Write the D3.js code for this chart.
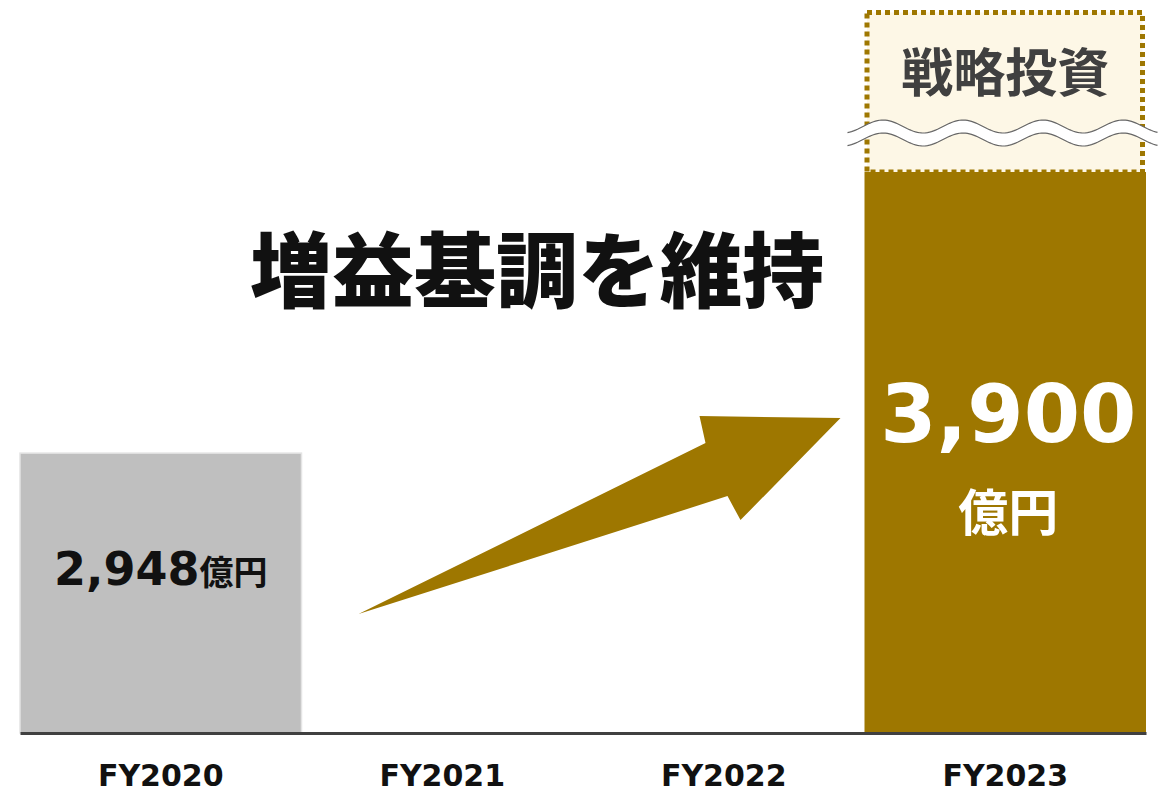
<!DOCTYPE html>
<html>
<head>
<meta charset="utf-8">
<script src="https://cdn.jsdelivr.net/npm/d3@7"></script>
<style>
  body { margin: 0; background: #fff; }
  svg { display: block; }
</style>
</head>
<body>
<svg width="1167" height="796"></svg>
<script>
// chart data
var years = ["FY2020", "FY2021", "FY2022", "FY2023"];
var values = [2948, null, null, 3900];
var unit = "億円";
var headline = "増益基調を維持";
var boxLabel = "戦略投資";

var gold = "#9e7700",
    grey = "#bfbfbf",
    jp = "'Noto Sans CJK JP', 'Noto Sans', sans-serif",
    num = "'DejaVu Sans', Verdana, sans-serif";

var svg = d3.select("svg"),
    width = +svg.attr("width"),
    height = +svg.attr("height");

var x = d3.scaleBand()
    .domain(years)
    .range([20, 1146])
    .paddingInner(0)
    .paddingOuter(0);

// axis does not start at zero
var y = d3.scaleLinear()
    .domain([2000, 3900])
    .range([733, 172]);

var bars = years.map(function(d, i) { return {year: d, value: values[i], i: i}; })
    .filter(function(d) { return d.value != null; });

// strategic investment box above the last bar
var last = bars[bars.length - 1];
var bx = x(last.year) + 2.5, bw = x.bandwidth() - 6;
svg.append("rect")
    .attr("x", bx)
    .attr("y", 12.5)
    .attr("width", bw)
    .attr("height", y(last.value) - 12.5)
    .attr("fill", "#fdf7e6")
    .attr("stroke", gold)
    .attr("stroke-width", 5)
    .attr("stroke-dasharray", "5,4");

svg.append("text")
    .attr("x", x(last.year) + x.bandwidth() / 2)
    .attr("y", 69)
    .attr("text-anchor", "middle")
    .attr("dominant-baseline", "central")
    .attr("font-family", jp)
    .attr("font-weight", 700)
    .attr("font-size", 52)
    .attr("fill", "#404040")
    .text(boxLabel);

// wavy break
var waveX0 = x(last.year) - 17, waveX1 = x(last.year) + x.bandwidth() + 12;
var upper = [], lower = [];
for (var wx = waveX0; wx <= waveX1; wx += 2) {
  var wy = 126.5 - 6.5 * Math.cos((wx - 883) / 80 * 2 * Math.PI);
  upper.push([wx, wy]);
  lower.push([wx, wy + 13]);
}
var line = d3.line();
svg.append("path")
    .attr("d", line(upper.concat(lower.slice().reverse())) + "Z")
    .attr("fill", "#fff");
svg.append("path").attr("d", line(upper)).attr("fill", "none").attr("stroke", "#666").attr("stroke-width", 1.2);
svg.append("path").attr("d", line(lower)).attr("fill", "none").attr("stroke", "#666").attr("stroke-width", 1.2);

// bars
svg.append("g")
    .selectAll("rect")
    .data(bars)
    .enter().append("rect")
      .attr("x", function(d) { return x(d.year); })
      .attr("y", function(d) { return y(d.value); })
      .attr("width", x.bandwidth())
      .attr("height", function(d) { return y.range()[0] - y(d.value); })
      .attr("fill", function(d) { return d.i === 0 ? grey : gold; })
      .attr("stroke", function(d) { return d.i === 0 ? "#e4e4e4" : "none"; })
      .attr("stroke-width", 1.5);

// first bar label
var first = bars[0];
var t1 = svg.append("text")
    .attr("x", x(first.year) + x.bandwidth() / 2)
    .attr("y", y(first.value) + 132)
    .attr("text-anchor", "middle")
    .attr("fill", "#111");
t1.append("tspan")
    .attr("font-family", num)
    .attr("font-weight", 700)
    .attr("font-size", 46)
    .text(d3.format(",")(first.value));
t1.append("tspan")
    .attr("font-family", jp)
    .attr("font-weight", 700)
    .attr("font-size", 34)
    .text(unit);

// last bar label
svg.append("text")
    .attr("x", x(last.year) + x.bandwidth() / 2 + 3)
    .attr("y", y(last.value) + 270)
    .attr("text-anchor", "middle")
    .attr("font-family", num)
    .attr("font-weight", 700)
    .attr("font-size", 81)
    .attr("fill", "#fff")
    .text(d3.format(",")(last.value));
svg.append("text")
    .attr("x", x(last.year) + x.bandwidth() / 2 + 3)
    .attr("y", y(last.value) + 337)
    .attr("text-anchor", "middle")
    .attr("dominant-baseline", "central")
    .attr("font-family", jp)
    .attr("font-weight", 700)
    .attr("font-size", 50)
    .attr("fill", "#fff")
    .text(unit);

// growth arrow from FY2021 to FY2022
var a0 = x("FY2021"), a1 = x("FY2023");
var arrow = [
  [a0 + 57, y(first.value) + 161],
  [a0 + 404, y(first.value) - 10],
  [a0 + 398, y(first.value) - 37],
  [a1 - 24, y(first.value) - 35],
  [a0 + 439, y(first.value) + 67],
  [a0 + 426, y(first.value) + 43]
];
svg.append("path")
    .attr("d", line(arrow) + "Z")
    .attr("fill", gold);

// headline
svg.append("text")
    .attr("x", 537)
    .attr("y", 265)
    .attr("text-anchor", "middle")
    .attr("dominant-baseline", "central")
    .attr("font-family", jp)
    .attr("font-weight", 900)
    .attr("font-size", 82)
    .attr("fill", "#111")
    .text(headline);

// baseline and category labels
var axis = svg.append("g")
    .attr("transform", "translate(0," + y.range()[0] + ")")
    .call(d3.axisBottom(x).tickSize(0).tickPadding(32));
axis.select(".domain")
    .attr("stroke", "#404040")
    .attr("stroke-width", 3);
axis.selectAll("text")
    .attr("font-family", num)
    .attr("font-weight", 700)
    .attr("font-size", 30)
    .attr("fill", "#111");
</script>
</body>
</html>
